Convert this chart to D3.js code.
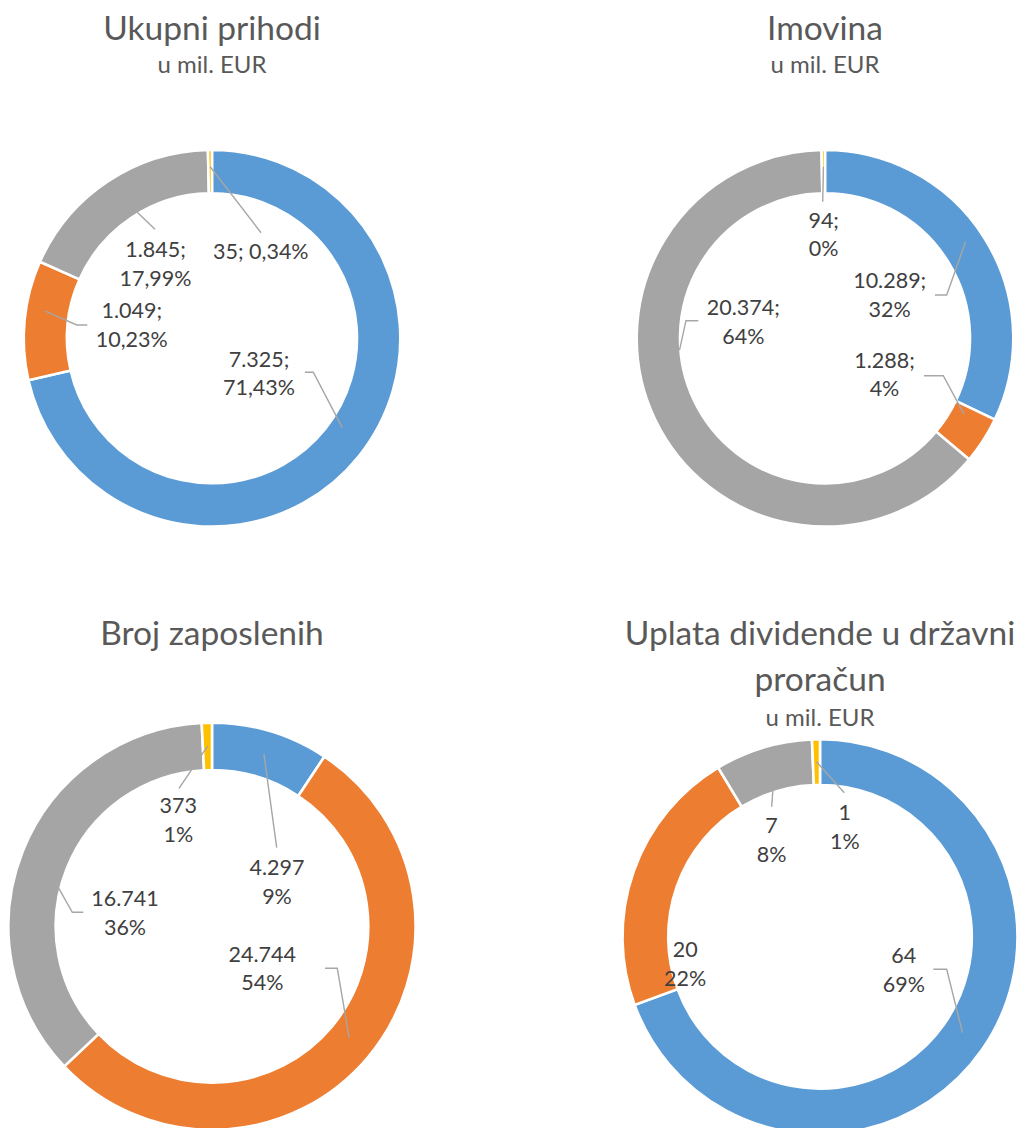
<!DOCTYPE html>
<html>
<head>
<meta charset="utf-8">
<script src="https://cdn.jsdelivr.net/npm/d3@7"></script>
<style>
  body { margin: 0; background: #fff; }
  svg text { font-family: Lato, 'Open Sans', sans-serif; }
</style>
</head>
<body>
<div id="graf"></div>
<script>
// I. Podaci
const naslovi = ['Ukupni prihodi', 'Imovina', 'Broj zaposlenih', 'Uplata dividende u državni proračun']
const podnaslovi = ['u mil. EUR', 'u mil. EUR', '', 'u mil. EUR']

const ukupniPrihodi = [7324.8, 1049.4, 1845.3, 35.2]
const imovina = [10289, 1288, 20374, 94]
const brojZaposlenih = [4297, 24744, 16741, 373]
const uplataDividende = [64.4, 20.4, 7.4, 0.6]

const serije = [ukupniPrihodi, imovina, brojZaposlenih, uplataDividende]

// boje Office teme
const boje = ['#5b9bd5', '#ed7d31', '#a5a5a5', '#ffc000']

// II. Raspored (pozicije grafova, naslova i oznaka)
const raspored = [
  { cx: 212, cy: 338.3, R: 188.3, r: 145, naslovY: 40, razmak: 45.7, podY: 73.3, decimale: 2, sep: ';',
    oznake: [
      { f: 0.484, rs: 158, put: [[101.3, 34], [93, 34]], x: 47, y: 28.4 },
      { f: 0.6, rs: 168.8, put: [[-135.3, -13.3], [-124.7, -13.3]], x: -80.3, y: -20 },
      { f: 0.54, rs: 150, put: [[-57, -109]], x: -56.5, y: -81.3 },
      { f: 0.5, rs: 171.6, put: [[49, -105.6]], x: 48.8, y: -79, jedanRed: true }
    ] },
  { cx: 825, cy: 338.3, R: 188.3, r: 145, naslovY: 40, razmak: 45.7, podY: 73.3, decimale: 0, sep: ';',
    oznake: [
      { f: 0.48, rs: 170.6, put: [[121.7, -43.3], [110, -43.3]], x: 64.7, y: -50 },
      { f: 0.21, rs: 158.4, put: [[118.3, 37.4], [99, 37.4]], x: 59.5, y: 29.4 },
      { f: 0.591, rs: 146, put: [[-139, -17.6], [-126.7, -17.6]], x: -81.7, y: -23.3 },
      { f: 0.5, rs: 171.6, put: [[-2.3, -136.6]], x: -1.3, y: -110.6 }
    ] },
  { cx: 212, cy: 926.3, R: 203.6, r: 156.3, naslovY: 645, razmak: 45.7, podY: null, decimale: 0, sep: '',
    oznake: [
      { f: 0.5, rs: 180, put: [[64.7, -78.6]], x: 65, y: -51.3 },
      { f: 0.495, rs: 176.6, put: [[125.3, 42], [113, 42]], x: 50.3, y: 35.4 },
      { f: 0.44, rs: 158, put: [[-139.7, -14], [-128.7, -14]], x: -87, y: -20.3 },
      { f: 0.5, rs: 180, put: [[-33, -138]], x: -33.7, y: -113 }
    ] },
  { cx: 820, cy: 936.8, R: 197.5, r: 151.8, naslovY: 645, razmak: 45.7, podY: 726, decimale: 0, sep: '',
    oznake: [
      { f: 0.496, rs: 171.7, put: [[126.7, 32.5], [113.3, 32.5]], x: 83.8, y: 26.5 },
      { f: 0, rs: 0, put: [], x: -134.8, y: 20.5 },
      { f: 0.55, rs: 173.7, put: [[-48.3, -130.1]], x: -48.5, y: -103.5 },
      { f: 0.5, rs: 175, put: [[24.3, -144.1]], x: 24.8, y: -116.8 }
    ] }
]

const ancho = 1030
const alto = 1128
const redak = 28.5

const hr = d3.formatLocale({ decimal: ',', thousands: '.', grouping: [3], currency: ['', ''] })
const fVrijednost = hr.format(',.0f')

const svg = d3.select('#graf').append('svg')
  .attr('width', ancho)
  .attr('height', alto)

const pie = d3.pie().sort(null).value(d => d)

// III. Crtanje
serije.forEach((serija, i) => {
  const L = raspored[i]
  const ukupno = d3.sum(serija)
  const fPostotak = hr.format(`.${L.decimale}%`)
  const arc = d3.arc().innerRadius(L.r).outerRadius(L.R)

  // naslov (prelamanje u više redaka ako je predug)
  const naslov = svg.append('text')
    .attr('x', L.cx)
    .attr('y', L.naslovY)
    .attr('text-anchor', 'middle')
    .attr('font-size', '33.5px')
    .attr('fill', '#595959')
  const rijeci = naslov_rijeci = naslovi[i].split(' ')
  let red = []
  let tspan = naslov.append('tspan').attr('x', L.cx).attr('y', L.naslovY)
  rijeci.forEach(w => {
    red.push(w)
    tspan.text(red.join(' '))
    if (tspan.node().getComputedTextLength() > 410 && red.length > 1) {
      red.pop()
      tspan.text(red.join(' '))
      red = [w]
      tspan = naslov.append('tspan')
        .attr('x', L.cx)
        .attr('dy', L.razmak)
        .text(w)
    }
  })

  if (podnaslovi[i]) {
    svg.append('text')
      .attr('x', L.cx)
      .attr('y', L.podY)
      .attr('text-anchor', 'middle')
      .attr('font-size', '24px')
      .attr('fill', '#595959')
      .text(podnaslovi[i])
  }

  const g = svg.append('g')
    .attr('transform', `translate(${L.cx}, ${L.cy})`)

  const lukovi = pie(serija)

  g.selectAll('path.luk')
    .data(lukovi)
    .enter()
    .append('path')
      .attr('class', 'luk')
      .attr('d', arc)
      .attr('fill', (d, j) => boje[j])
      .attr('stroke', '#fff')
      .attr('stroke-width', 2.6)

  // linije vodilice
  lukovi.forEach((d, j) => {
    const o = L.oznake[j]
    if (!o.put.length) return
    const kut = d.startAngle + o.f * (d.endAngle - d.startAngle)
    const tocke = [d3.pointRadial(kut, o.rs)].concat(o.put)
    g.append('path')
      .attr('d', d3.line()(tocke))
      .attr('fill', 'none')
      .attr('stroke', '#a6a6a6')
      .attr('stroke-width', 1.4)
  })

  // oznake podataka
  lukovi.forEach((d, j) => {
    const o = L.oznake[j]
    const v = fVrijednost(d.data) + L.sep
    const p = fPostotak(d.data / ukupno)
    const t = g.append('text')
      .attr('text-anchor', 'middle')
      .attr('font-size', '21.5px')
      .attr('fill', '#404040')
    if (o.jedanRed) {
      t.append('tspan').attr('x', o.x).attr('y', o.y).text(v + ' ' + p)
    } else {
      t.append('tspan').attr('x', o.x).attr('y', o.y).text(v)
      t.append('tspan').attr('x', o.x).attr('y', o.y + redak).text(p)
    }
  })
})
</script>
</body>
</html>
